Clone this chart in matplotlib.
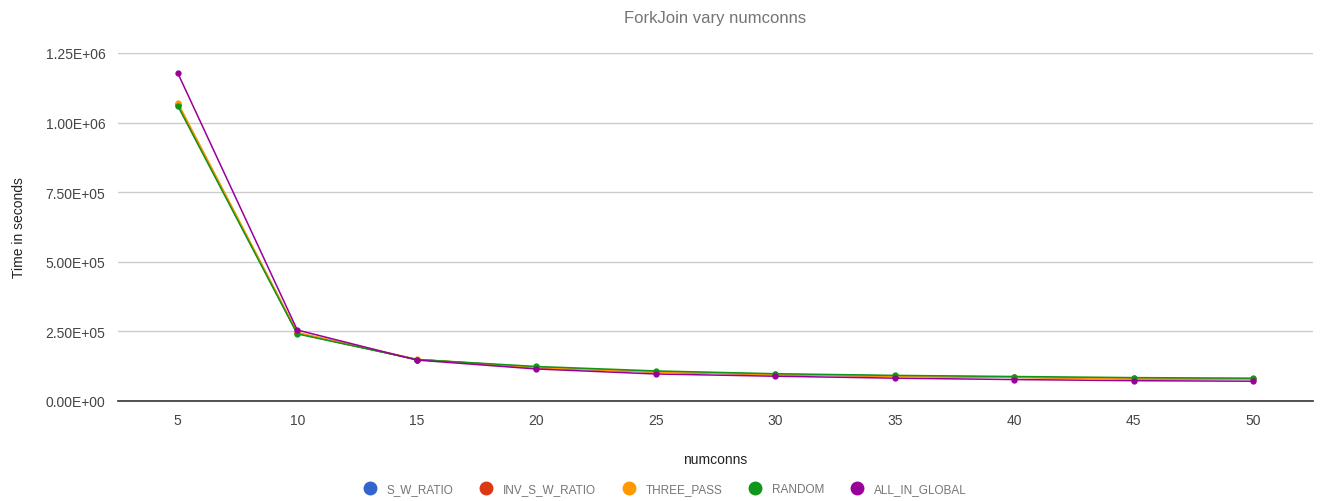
import matplotlib
matplotlib.use("Agg")
import matplotlib.pyplot as plt
from matplotlib.lines import Line2D
from matplotlib.ticker import FuncFormatter

plt.rcParams["font.family"] = ["Liberation Sans", "DejaVu Sans"]

numconns = [5, 10, 15, 20, 25, 30, 35, 40, 45, 50]

s_w_ratio = [1065000, 243000, 149000, 121000, 105000, 96000, 90000, 86000, 81000, 79000]
inv_s_w_ratio = [1068000, 244000, 149000, 120000, 104000, 95000, 89000, 85000, 80000, 78000]
three_pass = [1072000, 246000, 150000, 120000, 104000, 95000, 89000, 85000, 80000, 78000]
random_ = [1060000, 241000, 149000, 124000, 108000, 98000, 92000, 88000, 84000, 82000]
all_in_global = [1178000, 255000, 147000, 115000, 97000, 89000, 82000, 77000, 73000, 71000]

series = [
    ("S_W_RATIO", s_w_ratio, "#3366cc"),
    ("INV_S_W_RATIO", inv_s_w_ratio, "#dc3912"),
    ("THREE_PASS", three_pass, "#ff9900"),
    ("RANDOM", random_, "#109618"),
    ("ALL_IN_GLOBAL", all_in_global, "#990099"),
]


def sci(v, pos):
    if v == 0:
        return "0.00E+00"
    e = len(str(int(v))) - 1
    return "%.2fE+%02d" % (v / 10 ** e, e)


fig = plt.figure(figsize=(13.25, 5.02), dpi=100)
ax = fig.add_axes([118 / 1325, 100 / 502, (1313 - 118) / 1325, 348 / 502])

for name, vals, col in series:
    ax.plot(numconns, vals, color=col, lw=1.1, marker="o", ms=3.5, label=name)

ax.set_xlim(2.5, 52.5)
ax.set_ylim(0, 1250000)
ax.set_xticks(numconns)
ax.set_yticks([0, 250000, 500000, 750000, 1000000, 1250000])
ax.yaxis.set_major_formatter(FuncFormatter(sci))
ax.grid(axis="y", color="#cccccc", lw=1)
ax.set_axisbelow(True)
for s in ["top", "right", "left"]:
    ax.spines[s].set_visible(False)
ax.spines["bottom"].set_color("#333333")
ax.spines["bottom"].set_linewidth(1.2)
ax.tick_params(length=0, labelsize=10, colors="#444444", pad=9)

ax.set_title("ForkJoin vary numconns", fontsize=12, color="#757575", pad=22)
ax.set_xlabel("numconns", fontsize=10, color="#222222", labelpad=18)
ax.set_ylabel("Time in seconds", fontsize=10, color="#222222", labelpad=14)

handles = [Line2D([], [], ls="", marker="o", ms=9, color=c) for _, _, c in series]
fig.legend(handles, [n for n, _, _ in series], loc="center", bbox_to_anchor=(0.5, 1 - 490 / 502),
           ncol=5, frameon=False, fontsize=8.5, labelcolor="#757575", handletextpad=0.4, columnspacing=1.8)

fig.savefig("out.png", dpi=100)
